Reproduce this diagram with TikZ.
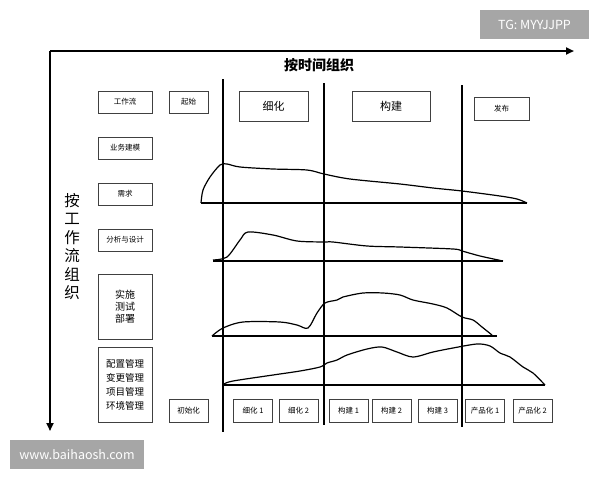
\documentclass[tikz,border=0pt]{standalone}
\usepackage{fontspec}
\setmainfont{Noto Sans CJK SC}
\usetikzlibrary{arrows.meta}
\tikzset{
  box/.style={draw=black!75, line width=0.8pt, rectangle, inner sep=0pt, minimum width=54pt, minimum height=22pt, font=\fontsize{7.5}{9}\selectfont},
  sbox/.style={box, minimum width=39pt, minimum height=23pt},
  axis/.style={line width=2pt, -{Triangle[length=8pt,width=7pt]}},
  sep/.style={line width=2pt},
  base/.style={line width=1.3pt},
  curve/.style={line width=1.2pt, smooth, tension=0.5},
  wm/.style={fill=black!35, text=white, inner sep=0pt, font=\fontsize{12.5}{14}\selectfont}
}
\begin{document}
\begin{tikzpicture}[x=1pt,y=-1pt]
\useasboundingbox[fill=white] (0,0) rectangle (600,480);
% watermarks
\node[wm, minimum width=109pt, minimum height=29pt] (tg) at (534.5,24.5) {TG: MYYJJPP};
\node[wm, minimum width=134pt, minimum height=29pt] (www) at (77,454.5) {www.baihaosh.com};
% axes
\coordinate (o) at (50,51);
\coordinate (xe) at (574,51);
\coordinate (ye) at (50,431);
\draw[axis] (o) -- (xe);
\draw[axis] (o) -- (ye);
\node[font=\fontsize{14}{16}\selectfont\bfseries] (tt) at (319,65) {按时间组织};
\node[font=\fontsize{15.5}{19}\selectfont, align=center, inner sep=0pt] (yt) at (72,246.5) {按\\[-0.5pt]工\\[-0.5pt]作\\[-0.5pt]流\\[-0.5pt]组\\[-0.5pt]织};
% separators
\coordinate (s1t) at (223,79); \coordinate (s1b) at (223,432);
\coordinate (s2t) at (324,83); \coordinate (s2b) at (324,425);
\coordinate (s3t) at (462,85); \coordinate (s3b) at (462,427);
\draw[sep] (s1t) -- (s1b);
\draw[sep] (s2t) -- (s2b);
\draw[sep] (s3t) -- (s3b);
% top boxes
\node[box] (wf) at (125,102) {工作流};
\node[box, minimum width=39pt] (qs) at (188.5,102) {起始};
\node[box, minimum width=69pt, minimum height=30pt, font=\fontsize{11}{13}\selectfont] (xh) at (273.5,106) {细化};
\node[box, minimum width=78pt, minimum height=30pt, font=\fontsize{11}{13}\selectfont] (gj) at (391,106) {构建};
\node[box, minimum width=55pt, minimum height=23pt] (fb) at (501.5,108.5) {发布};
% left boxes
\node[box] (yw) at (125,148) {业务建模};
\node[box] (xq) at (125,194) {需求};
\node[box] (fx) at (125,240) {分析与设计};
\node[box, minimum height=65pt, align=center, font=\fontsize{10}{12}\selectfont] (ss) at (125,306.5) {实施\\测试\\部署};
\node[box, minimum height=75pt, align=center, font=\fontsize{9.5}{14}\selectfont] (pz) at (125,384.5) {配置管理\\变更管理\\项目管理\\环境管理};
% bottom boxes
\node[sbox] (b0) at (188.5,410.5) {初始化};
\node[sbox] (b1) at (253,410.5) {细化 1};
\node[sbox] (b2) at (298.5,410.5) {细化 2};
\node[sbox] (b3) at (348.5,410.5) {构建 1};
\node[sbox] (b4) at (391.5,410.5) {构建 2};
\node[sbox] (b5) at (437.5,410.5) {构建 3};
\node[sbox] (b6) at (485,410.5) {产品化 1};
\node[sbox] (b7) at (532.5,410.5) {产品化 2};
% baselines
\coordinate (r1a) at (201,203); \coordinate (r1b) at (527,203);
\coordinate (r2a) at (213,261); \coordinate (r2b) at (503,261);
\coordinate (r3a) at (212,336); \coordinate (r3b) at (497,336);
\coordinate (r4a) at (224,385); \coordinate (r4b) at (545,385);
\draw[base] (r1a) -- (r1b);
\draw[base] (r2a) -- (r2b);
\draw[base] (r3a) -- (r3b);
\draw[base] (r4a) -- (r4b);
% curves
\draw[curve] plot coordinates {(201,203) (203,190) (210,177) (220,165) (227,164) (240,167) (273,169) (307,170) (324,174) (350,179) (400,184) (433,188) (462,191) (500,196) (517,199) (527,203)};
\draw[curve] plot coordinates {(213,260) (227,257) (240,240) (248,232) (273,235) (297,241) (324,242) (333,242) (367,246) (400,247) (453,249) (462,251) (480,256) (503,261)};
\draw[curve] plot coordinates {(212,336) (223,328) (243,322) (280,322) (297,325) (308,328) (317,313) (325,303) (337,300) (343,297) (363,293) (383,293) (400,295) (413,300) (433,304) (447,308) (462,317) (473,320) (482,327) (492,335)};
\draw[curve] plot coordinates {(224,384) (233,381) (273,375) (300,371) (320,367) (327,363) (337,360) (347,355) (367,349) (382,347) (397,352) (413,357) (433,352) (453,348) (477,344) (490,346) (500,353) (510,357) (523,367) (533,373) (545,385)};
\end{tikzpicture}
\end{document}
